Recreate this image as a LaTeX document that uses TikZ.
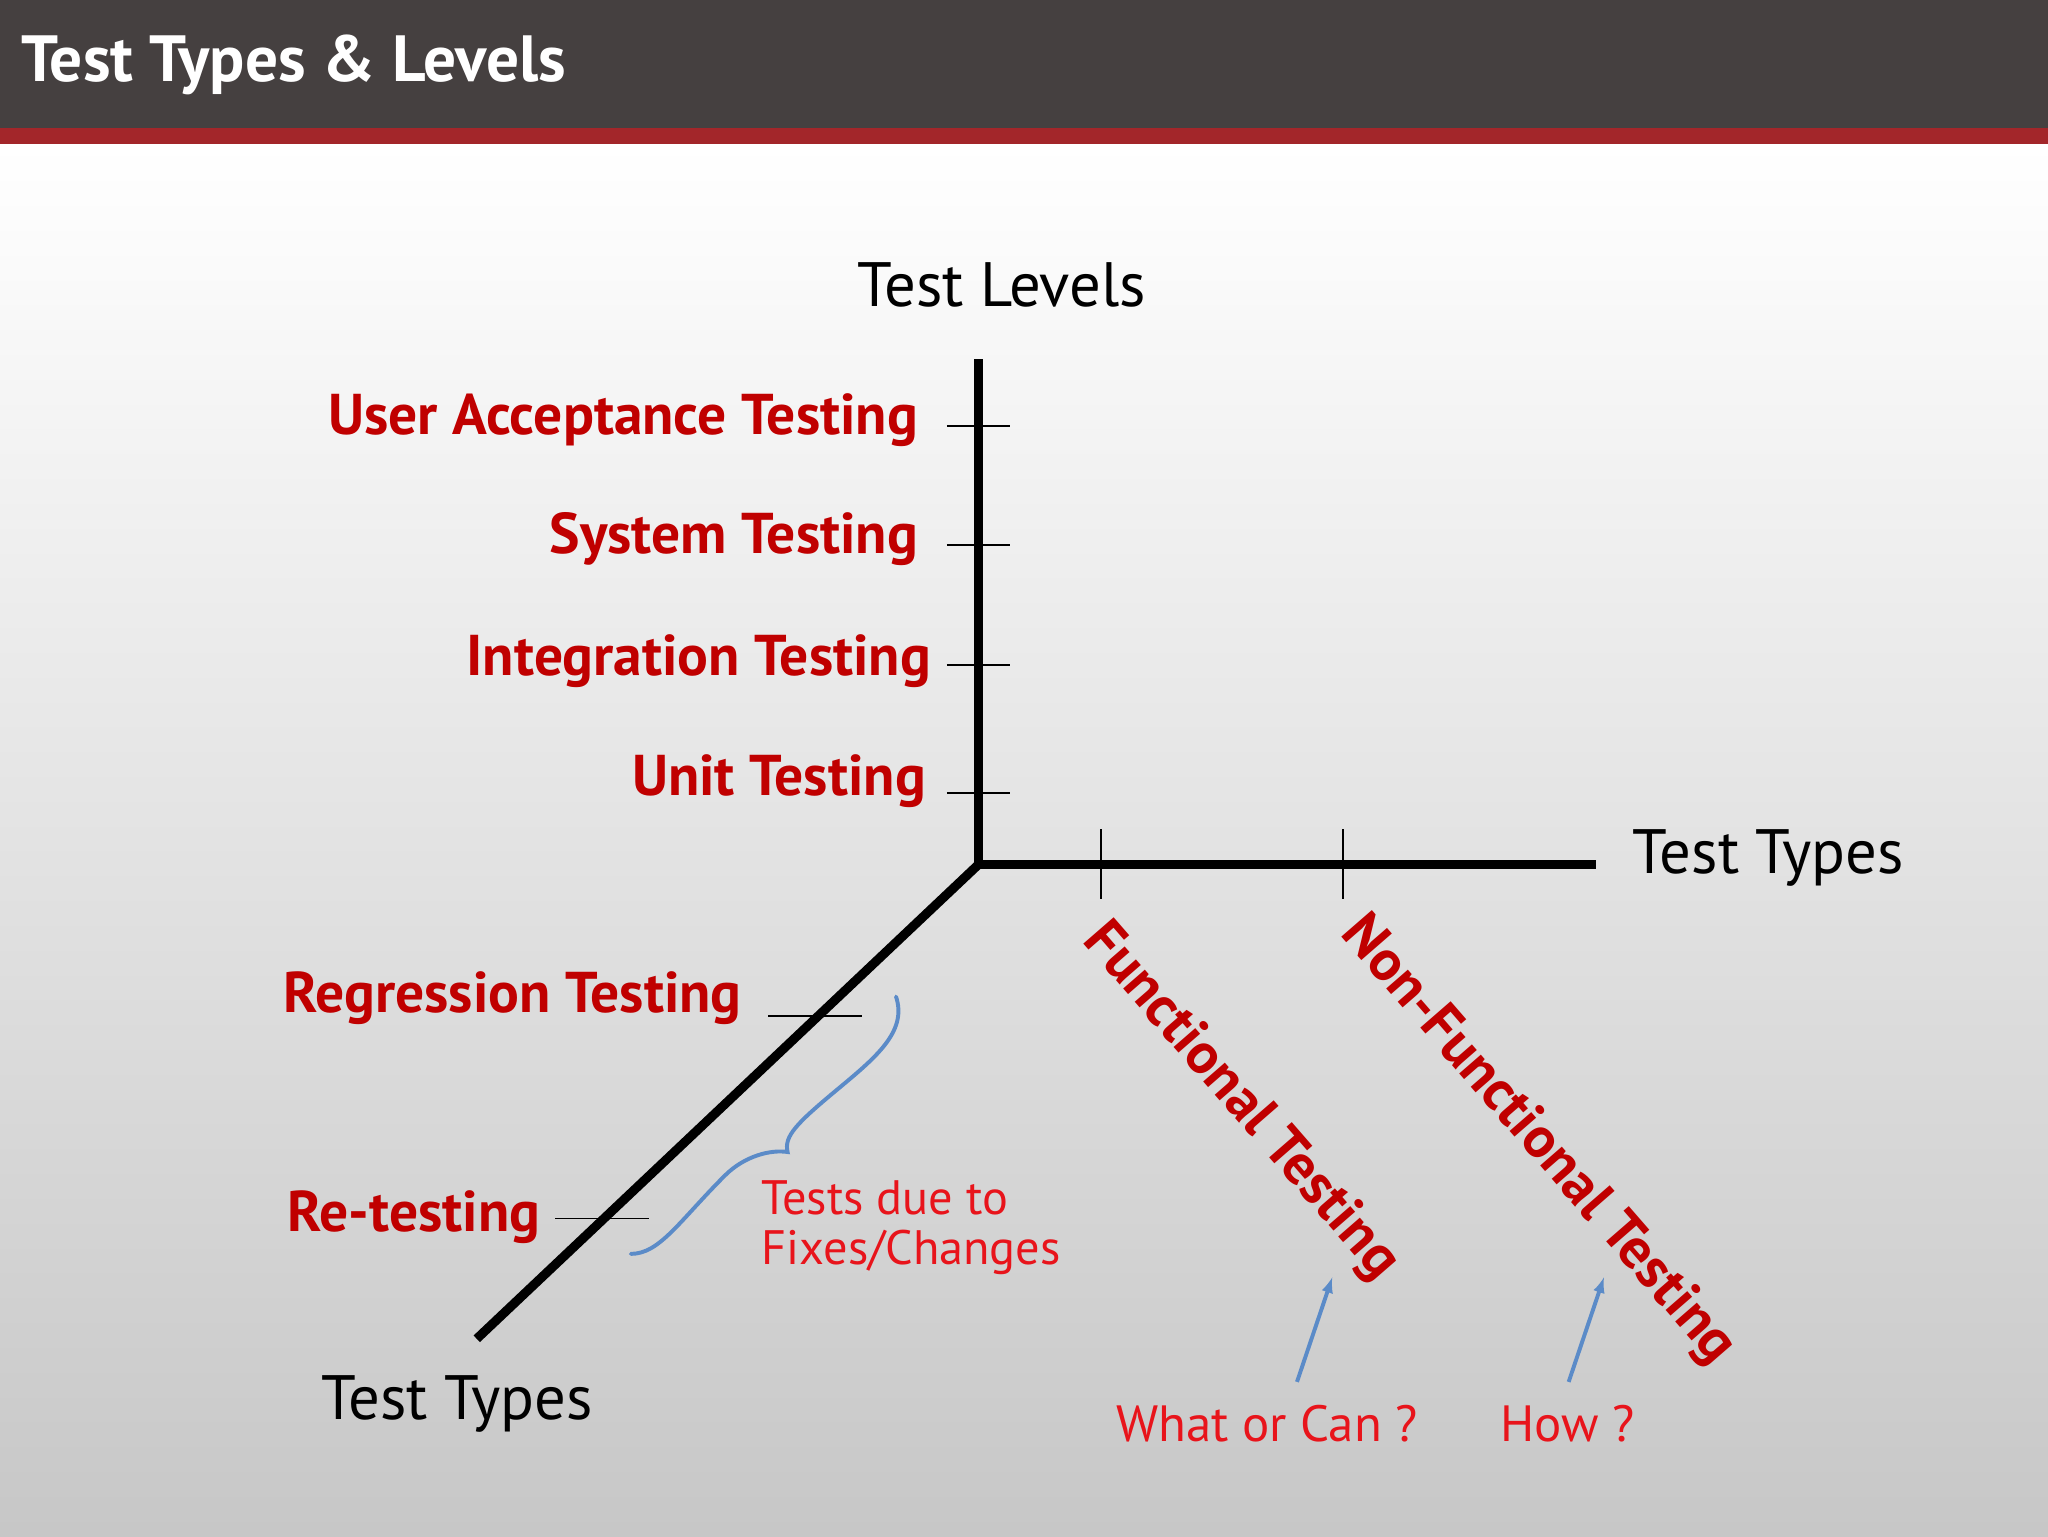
\documentclass[tikz,border=0pt]{standalone}
\usepackage{fontspec}
\setmainfont{PT Sans}
\definecolor{hdr}{HTML}{454040}
\definecolor{stripe}{HTML}{A3262A}
\definecolor{lvl}{HTML}{C00000}
\definecolor{note}{HTML}{E8141B}
\definecolor{brc}{HTML}{5B8BC8}
\begin{document}
\begin{tikzpicture}[x=1pt,y=-1pt,
  axis/.style={line width=7pt},
  tick/.style={line width=1.3pt},
  lab/.style={text=lvl,font=\fontsize{44}{48}\selectfont\bfseries,inner sep=0pt},
  blk/.style={text=black,font=\fontsize{48}{52}\selectfont,inner sep=0pt},
  red/.style={text=note,font=\fontsize{39}{38}\selectfont,inner sep=0pt},
  arr/.style={brc,line width=3pt,-latex}]
\useasboundingbox (0,0) rectangle (1568,1176);
\shade[top color=white,bottom color=black!22] (0,110) rectangle (1568,1176);
\fill[hdr] (0,0) rectangle (1568,98);
\fill[stripe] (0,98) rectangle (1568,110);
\node[anchor=west,text=white,font=\fontsize{50}{54}\selectfont\bfseries,inner sep=0pt] (title) at (16,50) {Test Types \& Levels};
% axes
\coordinate (o) at (749,662);
\coordinate (top) at (749,275);
\coordinate (right) at (1222,662);
\coordinate (bl) at (365,1025);
\draw[axis] (top) -- (o) -- (right);
\draw[axis] (o) -- (bl);
\foreach \y/\n in {326/t1,417/t2,509/t3,607/t4}{
  \coordinate (\n a) at (725,\y); \coordinate (\n b) at (773,\y);
  \draw[tick] (\n a) -- (\n b);}
\foreach \x/\n in {843/h1,1028/h2}{
  \coordinate (\n a) at (\x,635); \coordinate (\n b) at (\x,688);
  \draw[tick] (\n a) -- (\n b);}
\coordinate (d1a) at (588,778); \coordinate (d1b) at (660,778);
\coordinate (d2a) at (425,933); \coordinate (d2b) at (497,933);
\draw[tick] (d1a) -- (d1b);
\draw[tick] (d2a) -- (d2b);
% level labels
\node[lab,anchor=east] (uat) at (703,322) {User Acceptance Testing};
\node[lab,anchor=east] (st) at (703,413) {System Testing};
\node[lab,anchor=east] (it) at (713,506) {Integration Testing};
\node[lab,anchor=east] (ut) at (709,598) {Unit Testing};
\node[lab,anchor=east] (rt) at (568,764) {Regression Testing};
\node[lab,anchor=east] (ret) at (414,932) {Re-testing};
% axis titles
\node[blk] (tl) at (767,218) {Test Levels};
\node[blk,anchor=west] (tt1) at (1250,657) {Test Types};
\node[blk] (tt2) at (350,1075) {Test Types};
% brace
\coordinate (b1) at (686,763);
\coordinate (bm) at (603,882);
\coordinate (b2) at (483,960);
\draw[brc,line width=3pt,line cap=round] (b1) .. controls (695,790) and (670,810) .. (640,835)
  .. controls (610,860) and (600,870) .. (bm)
  .. controls (590,880) and (570,885) .. (555,900)
  .. controls (520,935) and (505,960) .. (b2);
\node[red,anchor=north west,align=left,font=\fontsize{37}{38}\selectfont] (fix) at (583,904) {Tests due to\\Fixes/Changes};
% rotated labels
\node[lab,anchor=north west,rotate=-49] (ft) at (852,700) {Functional Testing};
\node[lab,anchor=north west,rotate=-49] (nft) at (1049,695) {Non-Functional Testing};
% arrows
\node[red] (what) at (970,1090) {What or Can ?};
\node[red] (how) at (1200,1090) {How ?};
\coordinate (a1) at (993,1058); \coordinate (a1e) at (1020,978);
\coordinate (a2) at (1201,1058); \coordinate (a2e) at (1228,978);
\draw[arr] (a1) -- (a1e);
\draw[arr] (a2) -- (a2e);
\end{tikzpicture}
\end{document}
